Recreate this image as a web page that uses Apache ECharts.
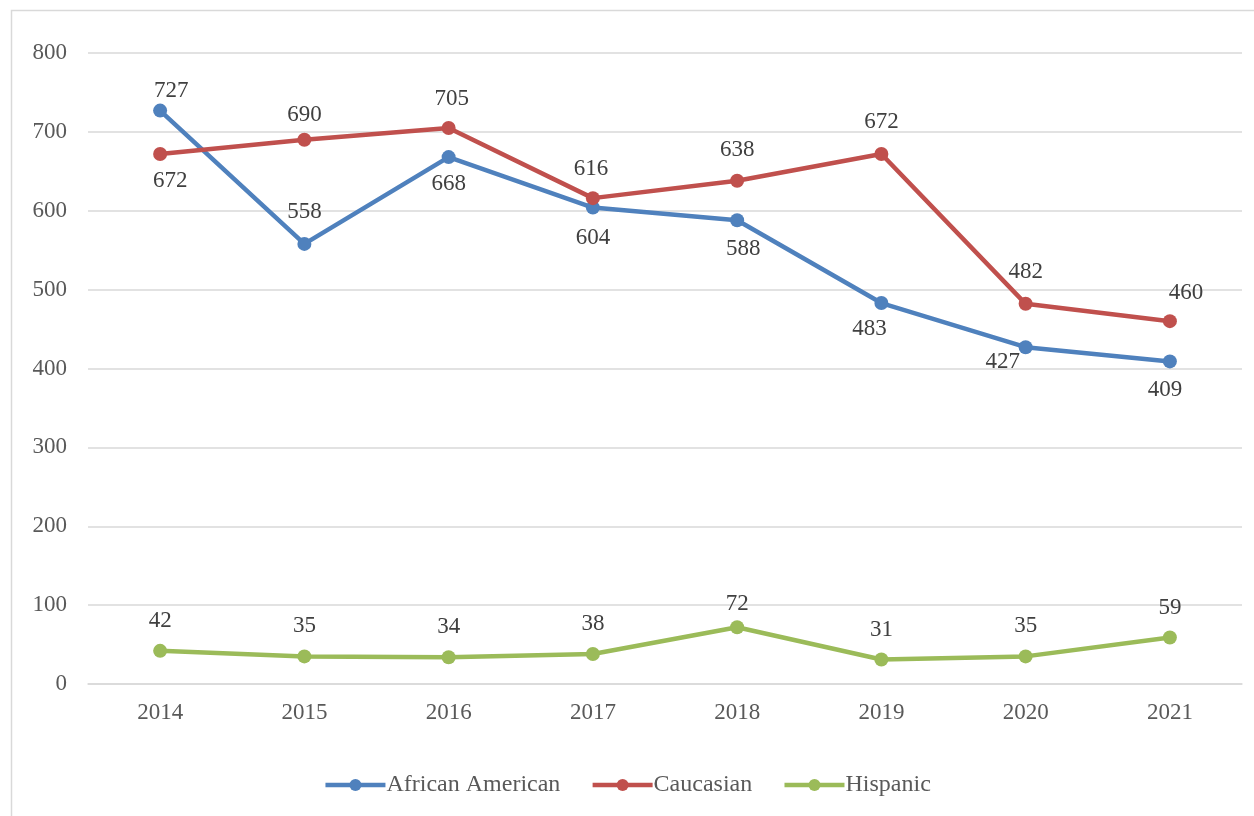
<!DOCTYPE html>
<html>
<head>
<meta charset="utf-8">
<script src="https://cdn.jsdelivr.net/npm/echarts@6/dist/echarts.min.js"></script>
<style>html,body{margin:0;padding:0;background:#fff;}#c{width:1254px;height:816px;}</style>
</head>
<body>
<div id="c"></div>
<script>
const categories = ['2014','2015','2016','2017','2018','2019','2020','2021'];
const seriesNames = ['African American','Caucasian','Hispanic'];
const africanAmerican = [727,558,668,604,588,483,427,409];
const caucasian = [672,690,705,616,638,672,482,460];
const hispanic = [42,35,34,38,72,31,35,59];
const yTicks = [0,100,200,300,400,500,600,700,800];

// label placement (offset of label centre from the point, px)
const labelOffsets = [
  [[11,-20],[0,-32],[0,27],[0,30],[6,29],[-12,26],[-23,15],[-5,29]],
  [[10,27],[0,-25],[3,-29],[-2,-29],[0,-31],[0,-32],[0,-32],[16,-28]],
  [[0,-30],[0,-30],[0,-30],[0,-30],[0,-23],[0,-30],[0,-30],[0,-30]]
];
const colors = ['#4F81BD','#C0504D','#9BBB59'];
const font = '"Liberation Serif","Times New Roman",serif';
const fs = 23;

const values = [africanAmerican, caucasian, hispanic];
const chart = echarts.init(document.getElementById('c'));
chart.setOption({
  animation: false,
  color: colors,
  graphic: [{
    type: 'rect', left: 9, top: 8,
    shape: {width: 1260, height: 830},
    style: {fill: 'none', stroke: '#D9D9D9', lineWidth: 1.5},
    silent: true
  }],
  grid: {left: 88, right: 12, top: 53, bottom: 132, containLabel: false},
  legend: {
    bottom: 14, left: 'center',
    itemWidth: 60, itemHeight: 15, itemGap: 30,
    lineStyle: {width: 4.5},
    textStyle: {fontFamily: font, fontSize: 24, color: '#595959', padding: [0,0,0,-4]},
    data: seriesNames
  },
  xAxis: {
    type: 'category', data: categories, boundaryGap: true,
    axisLine: {show: true, lineStyle: {color: '#D9D9D9', width: 1.5}},
    axisTick: {show: false},
    axisLabel: {fontFamily: font, fontSize: fs, color: '#595959', margin: 17}
  },
  yAxis: {
    type: 'value', min: yTicks[0], max: yTicks[yTicks.length-1], interval: 100,
    axisLine: {show: false}, axisTick: {show: false},
    splitLine: {lineStyle: {color: '#D9D9D9', width: 1.5}},
    axisLabel: {fontFamily: font, fontSize: fs, color: '#595959', margin: 21}
  },
  series: seriesNames.map((name, si) => ({
    name: name, type: 'line',
    symbol: 'circle', symbolSize: 14,
    lineStyle: {width: 4.5, color: colors[si]},
    itemStyle: {color: colors[si]},
    data: values[si].map((v, i) => ({
      value: v,
      label: {offset: labelOffsets[si][i]}
    })),
    label: {
      show: true, position: 'inside',
      fontFamily: font, fontSize: fs, color: '#404040'
    }
  }))
});
</script>
</body>
</html>
